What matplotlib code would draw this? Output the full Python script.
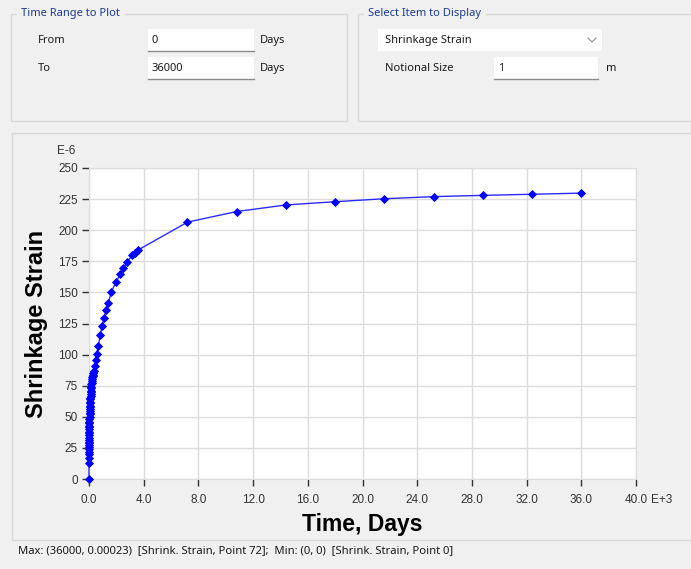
import matplotlib
matplotlib.use('Agg')
import matplotlib.pyplot as plt
from matplotlib.patches import Rectangle

# shrinkage strain curve, 73 points (0..72)
days = [0,
        1, 2, 3, 4, 5, 6, 7, 8, 9, 10, 12, 14, 16, 18, 20, 23, 26, 29, 32, 36,
        40, 45, 50, 55, 60, 66, 72, 79, 86, 94, 102, 111, 120, 130, 141, 153,
        166, 180, 195, 211, 228, 246, 265, 285, 306, 330,
        420, 490, 560, 680, 820, 960, 1100, 1250, 1410, 1640, 1960, 2280,
        2520, 2780, 3180, 3380, 3580,
        7200, 10800, 14400, 18000, 21600, 25200, 28800, 32400, 36000]
strain = [0,
          13, 17, 20, 22, 24, 26, 27, 29, 30, 31, 33, 35, 37, 38, 40, 42, 43, 45, 46, 48,
          50, 52, 53, 55, 56, 58, 59, 61, 62, 64, 65, 67, 68, 70, 71, 73,
          74, 76, 77, 79, 80, 82, 83, 84, 85, 87,
          90.5, 95.5, 100.5, 107, 115.5, 123, 129.5, 136, 141.5, 150.5, 158, 164.5,
          169.5, 174.5, 180, 182, 184,
          206.5, 215, 220.3, 222.9, 225.3, 227.0, 228.0, 228.9, 229.8]

xticks = [0, 4000, 8000, 12000, 16000, 20000, 24000, 28000, 32000, 36000, 40000]
xlabels = ['0.0', '4.0', '8.0', '12.0', '16.0', '20.0', '24.0', '28.0', '32.0', '36.0', '40.0']
yticks = [0, 25, 50, 75, 100, 125, 150, 175, 200, 225, 250]

W, H = 691, 569
BG = '#f0f0f0'
ui_font = ['Noto Sans', 'DejaVu Sans']
plt.rcParams['font.family'] = ['Liberation Sans', 'DejaVu Sans']

fig = plt.figure(figsize=(W / 100, H / 100), dpi=100, facecolor=BG)

# dialog background drawn in pixel coords
bg = fig.add_axes([0, 0, 1, 1], zorder=-1)
bg.set_xlim(0, W)
bg.set_ylim(H, 0)
bg.axis('off')

def box(x0, y0, x1, y1, **kw):
    bg.add_patch(Rectangle((x0, y0), x1 - x0, y1 - y0, **kw))

def label(x, y, s, **kw):
    kw.setdefault('fontsize', 8)
    kw.setdefault('color', '#1a1a1a')
    bg.text(x, y, s, va='center', family=ui_font, **kw)

def textbox(x0, y0, x1, y1, s):
    box(x0, y0, x1, y1, facecolor='white', edgecolor='none')
    bg.plot([x0, x1], [y1, y1], color='#8a8a8a', lw=1)
    label(x0 + 4, (y0 + y1) / 2, s)

# group boxes
box(11, 14, 347, 121, facecolor='none', edgecolor='#d8d8d8', lw=1)
label(21, 13, 'Time Range to Plot', color='#1c3b96', backgroundcolor=BG)
box(358, 14, 700, 121, facecolor='none', edgecolor='#d8d8d8', lw=1)
label(368, 13, 'Select Item to Display', color='#1c3b96', backgroundcolor=BG)

label(38, 40, 'From')
textbox(148, 29, 254, 51, '0')
label(260, 40, 'Days')
label(38, 68, 'To')
textbox(148, 57, 254, 79, '36000')
label(260, 68, 'Days')

box(378, 29, 602, 51, facecolor='white', edgecolor='none')
label(385, 40, 'Shrinkage Strain')
bg.plot([588, 592, 596], [38, 42, 38], color='#8a8a8a', lw=0.8)
label(385, 68, 'Notional Size')
textbox(494, 57, 598, 79, '1')
label(606, 68, 'm')

# chart panel
box(12, 133, 700, 540, facecolor='none', edgecolor='#d8d8d8', lw=1)
label(18, 551, 'Max: (36000, 0.00023)  [Shrink. Strain, Point 72];  '
      'Min: (0, 0)  [Shrink. Strain, Point 0]', fontsize=8.1)

# plot area
ax = fig.add_axes([89 / W, 1 - 479 / H, 547 / W, 311 / H])
ax.set_facecolor('white')
ax.plot(days, strain, color='#2b2bff', lw=1, marker='D', ms=4.2,
        mfc='#0000ff', mec='#0000ff', mew=0.6, clip_on=False, zorder=3)
ax.set_xlim(0, 40000)
ax.set_ylim(0, 250)
ax.set_xticks(xticks)
ax.set_xticklabels(xlabels)
ax.set_yticks(yticks)
ax.grid(True, color='#dcdcdc', lw=1)
for s in ax.spines.values():
    s.set_color('#dcdcdc')
ax.tick_params(axis='both', colors='#333333', labelsize=8.5, width=1)
ax.tick_params(axis='x', length=5, pad=6)
ax.tick_params(axis='y', length=5, pad=3)

bg.text(651, 500, 'E+3', fontsize=8.5, color='#333333', va='center', ha='left')
bg.text(66, 151, 'E-6', fontsize=8.5, color='#333333', va='center', ha='center')
ax.set_xlabel('Time, Days', fontsize=16.5, fontweight='bold', labelpad=5)
ax.set_ylabel('Shrinkage Strain', fontsize=17, fontweight='bold', labelpad=7)

fig.savefig('out.png', dpi=100, facecolor=BG)
